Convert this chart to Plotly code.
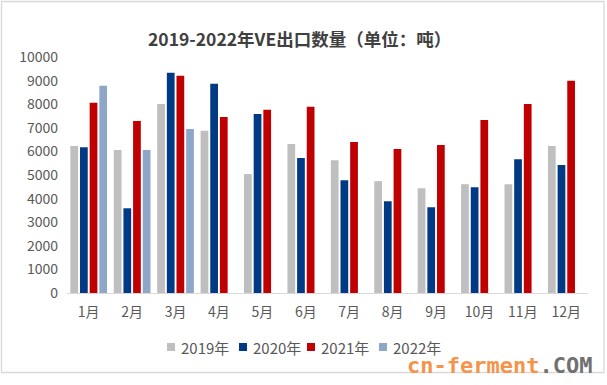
import plotly.graph_objects as go

months = ["1月", "2月", "3月", "4月", "5月", "6月", "7月", "8月", "9月", "10月", "11月", "12月"]
v2019 = [6230, 6060, 8010, 6870, 5040, 6310, 5630, 4740, 4440, 4610, 4610, 6230]
v2020 = [6180, 3590, 9330, 8870, 7590, 5720, 4780, 3890, 3630, 4480, 5670, 5420]
v2021 = [8060, 7290, 9210, 7460, 7760, 7890, 6400, 6100, 6270, 7330, 8010, 8990]
v2022 = [8780, 6060, 6950, None, None, None, None, None, None, None, None, None]
series_names = ["2019年", "2020年", "2021年", "2022年"]
series_colors = ["#BFBFBF", "#003A84", "#C00000", "#8EA6C8"]
y_ticks = [0, 1000, 2000, 3000, 4000, 5000, 6000, 7000, 8000, 9000, 10000]

fig = go.Figure()
for name, vals, col in zip(series_names, [v2019, v2020, v2021, v2022], series_colors):
    fig.add_trace(go.Bar(x=months, y=vals, name=name, showlegend=False,
                         marker=dict(color=col, line=dict(width=0))))

W, H = 607, 385
L, R, T, B = 67, 19, 57, 92
pw, ph = W - L - R, H - T - B

def px(x):
    return (x - L) / pw

def py(y):
    return (H - B - y) / ph

# outer chart border
fig.add_shape(type="rect", xref="paper", yref="paper",
              x0=px(1.5), x1=px(604), y0=py(372.5), y1=py(1.5),
              line=dict(color="#D9D9D9", width=1.3), fillcolor="rgba(0,0,0,0)", layer="below")

# title
fig.add_annotation(text="<b>2019-2022年VE出口数量（单位：吨）</b>", xref="paper", yref="paper",
                   x=px(299), y=py(24), showarrow=False,
                   font=dict(family="Noto Sans CJK SC", size=17.5, color="#404040"))

# manual legend
leg_pos = [167, 239, 307, 379]
leg_y = 347
for sx, name, col in zip(leg_pos, series_names, series_colors):
    fig.add_shape(type="rect", xref="paper", yref="paper",
                  x0=px(sx), x1=px(sx + 8), y0=py(leg_y + 4), y1=py(leg_y - 4),
                  line=dict(width=0), fillcolor=col)
    fig.add_annotation(text=name, xref="paper", yref="paper", x=px(sx + 12), y=py(leg_y),
                       xanchor="left", yanchor="middle", showarrow=False,
                       font=dict(family="Noto Sans CJK SC", size=15, color="#595959"))

# site watermark
fig.add_annotation(text="<b><span style='color:#F4934A'>cn-ferment</span><span style='color:#707070'>.COM</span></b>",
                   xref="paper", yref="paper", x=px(594), y=py(365), xanchor="right", yanchor="middle",
                   showarrow=False, font=dict(family="DejaVu Sans Mono", size=22))

fig.update_layout(
    width=W, height=H,
    margin=dict(l=L, r=R, t=T, b=B, autoexpand=False),
    paper_bgcolor="white", plot_bgcolor="white",
    barmode="group", bargap=0.11, bargroupgap=0.2,
    font=dict(family="Noto Sans CJK SC", size=14, color="#595959"),
    showlegend=False,
    xaxis=dict(showline=True, linecolor="#D9D9D9", linewidth=1.3, ticks="", showgrid=False,
               automargin=False, ticklabelstandoff=6,
               tickfont=dict(size=14, color="#595959")),
    yaxis=dict(range=[0, 10000], tickvals=y_ticks, ticktext=[str(v) for v in y_ticks],
               showgrid=False, zeroline=False, automargin=False, ticklabelstandoff=8,
               showline=False, ticks="", tickfont=dict(size=14, color="#595959")),
)

fig.write_html("out.html", config={"displayModeBar": False},
               post_script="document.body.style.margin='0';document.body.style.padding='0';document.body.style.overflow='hidden';")
